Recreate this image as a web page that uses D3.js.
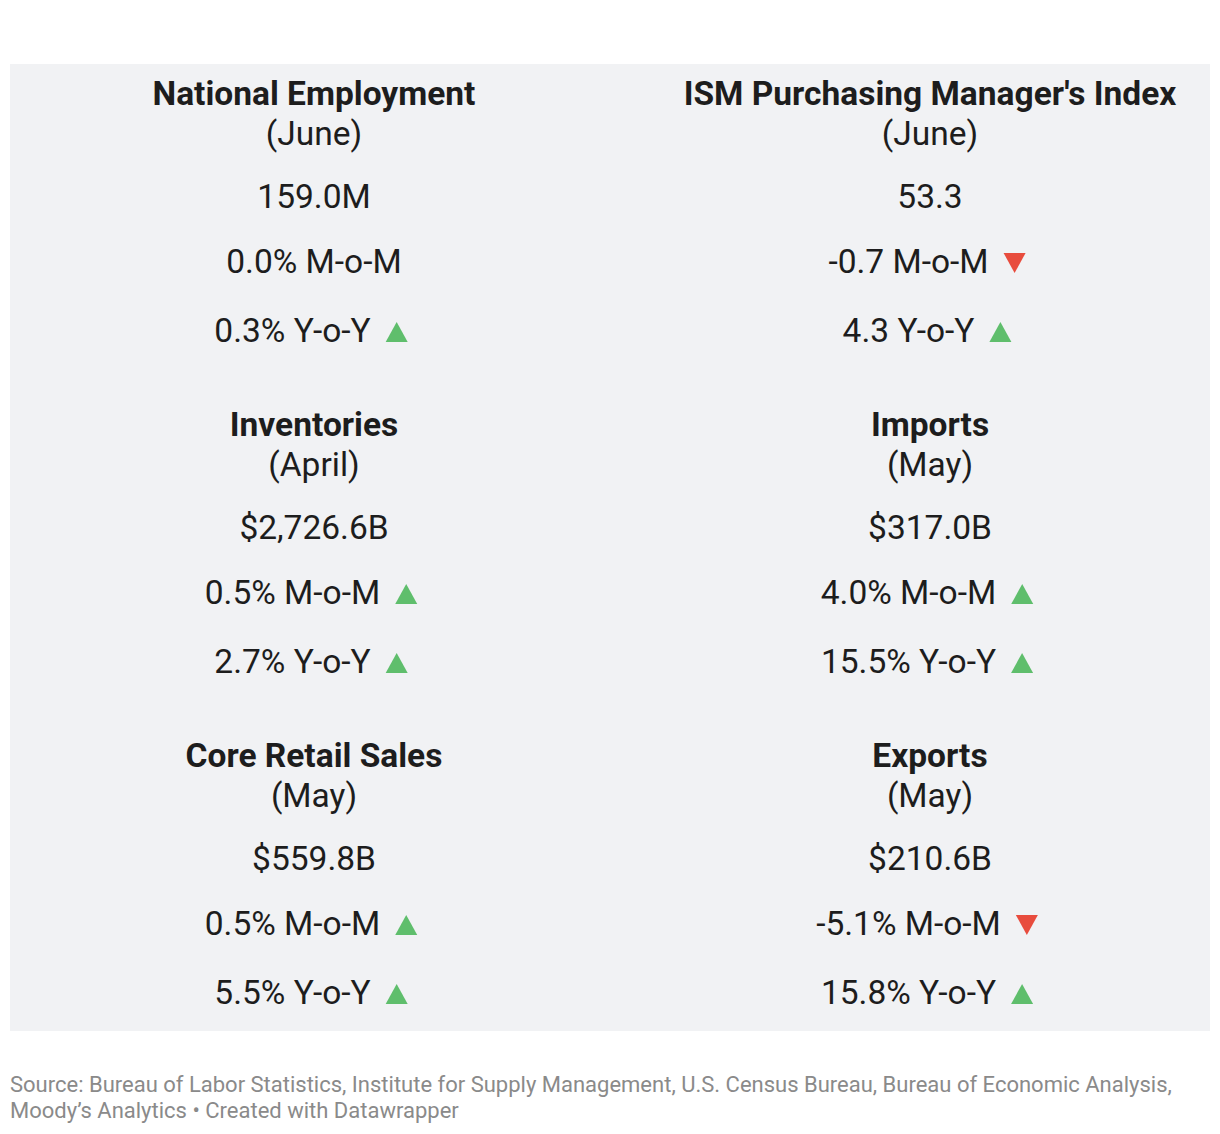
<!DOCTYPE html>
<html>
<head>
<meta charset="utf-8">
<script src="https://cdn.jsdelivr.net/npm/d3@7"></script>
<style>
  body { margin: 0; background: #fff; }
  svg { display: block; font-family: Roboto, "Noto Sans", sans-serif; }
</style>
</head>
<body>
<script>
// indicators, row by row (left column, right column)
var titles = ["National Employment", "ISM Purchasing Manager's Index", "Inventories", "Imports", "Core Retail Sales", "Exports"];
var periods = ["(June)", "(June)", "(April)", "(May)", "(May)", "(May)"];
var levels = ["159.0M", "53.3", "$2,726.6B", "$317.0B", "$559.8B", "$210.6B"];
var momLabels = ["0.0% M-o-M", "-0.7 M-o-M", "0.5% M-o-M", "4.0% M-o-M", "0.5% M-o-M", "-5.1% M-o-M"];
var momDir = ["none", "down", "up", "up", "up", "down"];
var yoyLabels = ["0.3% Y-o-Y", "4.3 Y-o-Y", "2.7% Y-o-Y", "15.5% Y-o-Y", "5.5% Y-o-Y", "15.8% Y-o-Y"];
var yoyDir = ["up", "up", "up", "up", "up", "up"];
var source = ["Source: Bureau of Labor Statistics, Institute for Supply Management, U.S. Census Bureau, Bureau of Economic Analysis,",
              "Moody\u2019s Analytics \u2022 Created with Datawrapper"];

var w = 1220, h = 1134;
var ink = "#1d1d1d";
var up_col = "#5fbe6c", down_col = "#e84c3d";
var fs = "33.5px";

var svg = d3.select("body").append("svg")
  .attr("width", w)
  .attr("height", h);

// 背景パネル
svg.append("rect")
  .attr("x", 10).attr("y", 64)
  .attr("width", 1200).attr("height", 967)
  .attr("fill", "#f1f2f4");

var x = d3.scalePoint().domain([0, 1]).range([314, 930]);
var y = d3.scalePoint().domain([0, 1, 2]).range([105, 767]);

// baseline offsets of each line inside a block
var off = { title: 0, period: 40, level: 103, mom: 168, yoy: 237 };

var cells = titles.map(function(t, i) {
  return {
    col: i % 2, row: Math.floor(i / 2),
    title: t, period: periods[i], level: levels[i],
    mom: momLabels[i], momDir: momDir[i],
    yoy: yoyLabels[i], yoyDir: yoyDir[i]
  };
});

var g = svg.selectAll("g.cell")
  .data(cells)
  .enter()
  .append("g")
  .attr("class", "cell")
  .attr("transform", function(d) { return "translate(" + x(d.col) + "," + y(d.row) + ")"; });

g.append("text")
  .attr("y", off.title)
  .attr("text-anchor", "middle")
  .attr("font-size", fs)
  .attr("font-weight", "bold")
  .attr("fill", ink)
  .text(function(d) { return d.title; });

g.append("text")
  .attr("y", off.period)
  .attr("text-anchor", "middle")
  .attr("font-size", fs)
  .attr("fill", ink)
  .text(function(d) { return d.period; });

g.append("text")
  .attr("y", off.level)
  .attr("text-anchor", "middle")
  .attr("font-size", fs)
  .attr("fill", ink)
  .text(function(d) { return d.level; });

// change line: text + arrow, centred together
function change_line(sel, key, dirKey) {
  sel.each(function(d) {
    var cell = d3.select(this);
    var dir = d[dirKey];
    var line = cell.append("g").attr("transform", "translate(0," + off[key] + ")");
    var txt = line.append("text")
      .attr("font-size", fs)
      .attr("fill", ink)
      .text(d[key]);
    var tw = txt.node().getComputedTextLength();
    var gap = 15, tri = 22, th = 20, tail = 6;
    var total = dir === "none" ? tw : tw + gap + tri + tail;
    var x0 = -total / 2;
    txt.attr("x", x0);
    if (dir === "none") return;
    var ax = x0 + tw + gap;
    var pts = dir === "up"
      ? [[ax, 0], [ax + tri, 0], [ax + tri / 2, -th]]
      : [[ax, -th], [ax + tri, -th], [ax + tri / 2, 0]];
    line.append("path")
      .attr("d", d3.line()(pts) + "Z")
      .attr("fill", dir === "up" ? up_col : down_col);
  });
}

g.call(change_line, "mom", "momDir");
g.call(change_line, "yoy", "yoyDir");

// 出典
svg.selectAll("text.source")
  .data(source)
  .enter()
  .append("text")
  .attr("class", "source")
  .attr("x", 10)
  .attr("y", function(d, i) { return 1092 + i * 26; })
  .attr("font-size", "22px")
  .attr("fill", "#8a8a8a")
  .text(function(d) { return d; });
</script>
</body>
</html>
